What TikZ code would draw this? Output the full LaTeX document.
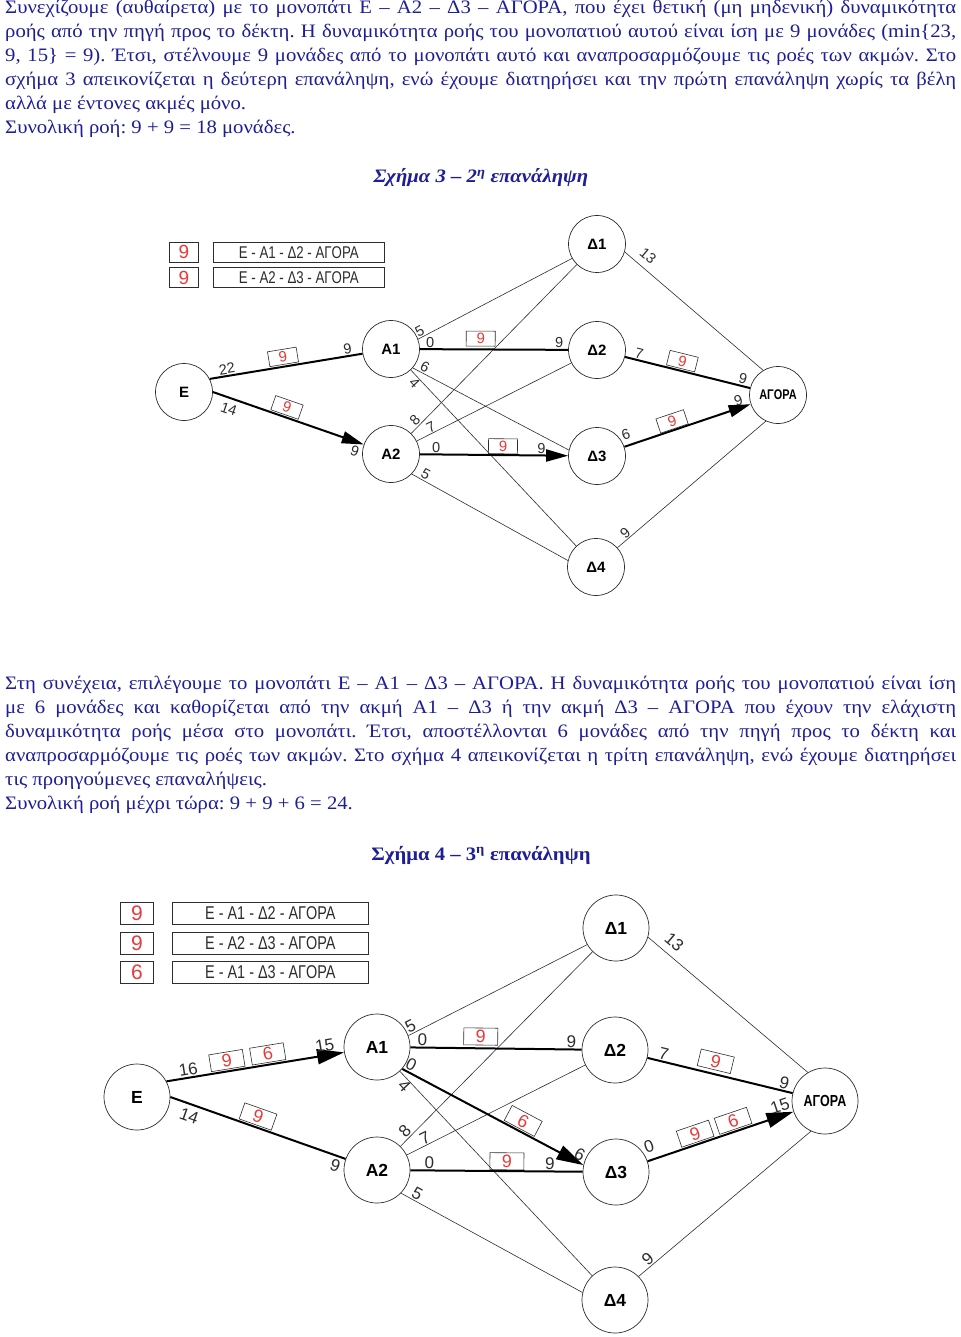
\documentclass[tikz,border=0pt]{standalone}
\usepackage{fontspec}
\setmainfont{Liberation Serif}[FakeStretch=1.09]
\newfontfamily\graphfont{Liberation Sans}
\newfontfamily\narrowfont[FakeStretch=0.78]{Liberation Sans}
\usetikzlibrary{arrows.meta}
\definecolor{textblue}{RGB}{30,30,150}
\definecolor{flowred}{RGB}{232,58,58}
\definecolor{edgegray}{RGB}{45,45,45}
\frenchspacing
\tikzset{
    page/.style      = {x=1pt, y=-1pt},
    bodytext/.style  = {anchor=north west, inner sep=0pt, text width=951pt,
                        align=justify, text=textblue,
                        font=\fontsize{19}{24}\selectfont},
    caption/.style   = {inner sep=0pt, text=textblue},
    vertex/.style    = {draw=edgegray, line width=0.7pt, circle, fill=white,
                        inner sep=0pt},
    market/.style    = {vertex},
    link/.style      = {draw=edgegray, line width=0.6pt},
    flow/.style      = {draw=black, line width=2pt},
    res/.style       = {sloped, inner sep=1pt, text=edgegray},
    flowbox/.style   = {draw=edgegray, line width=0.6pt, sloped, inner sep=0pt,
                        text=flowred},
    countbox/.style  = {draw=edgegray, line width=0.7pt, inner sep=0pt,
                        anchor=north west, text=flowred},
    pathbox/.style   = {countbox, text=edgegray},
    fig three/.style = {
        vertex/.append style   = {minimum size=57pt,
                                  font=\graphfont\bfseries\fontsize{15}{15}\selectfont},
        market/.append style   = {font=\narrowfont\bfseries\fontsize{14}{14}\selectfont},
        res/.append style      = {font=\graphfont\fontsize{14.5}{14.5}\selectfont},
        flowbox/.append style  = {minimum width=29pt, minimum height=15pt,
                                  font=\graphfont\fontsize{15}{15}\selectfont},
        countbox/.append style = {minimum width=29pt, minimum height=20pt,
                                  font=\graphfont\fontsize{19}{19}\selectfont},
        pathbox/.append style  = {minimum width=171pt,
                                  font=\narrowfont\fontsize{17}{17}\selectfont},
        >={Triangle[length=22pt, width=12pt]}},
    fig four/.style  = {
        vertex/.append style   = {minimum size=66pt,
                                  font=\graphfont\bfseries\fontsize{17.5}{17.5}\selectfont},
        market/.append style   = {font=\narrowfont\bfseries\fontsize{16}{16}\selectfont},
        res/.append style      = {font=\graphfont\fontsize{17}{17}\selectfont},
        flowbox/.append style  = {minimum width=34pt, minimum height=17pt,
                                  font=\graphfont\fontsize{18}{18}\selectfont},
        countbox/.append style = {minimum width=33pt, minimum height=22pt,
                                  font=\graphfont\fontsize{21}{21}\selectfont},
        pathbox/.append style  = {minimum width=196pt,
                                  font=\narrowfont\fontsize{18.5}{18.5}\selectfont},
        >={Triangle[length=27pt, width=15pt]}}
}

\begin{document}
\begin{tikzpicture}[page]
\useasboundingbox (0,0) rectangle (960,1337);
\fill[white] (0,0) rectangle (960,1337);

% Κείμενο πριν από το σχήμα 3
\node[bodytext] (intro) at (5,0) {Συνεχίζουμε (αυθαίρετα) με το μονοπάτι Ε – Α2 – Δ3 – ΑΓΟΡΑ, που έχει θετική (μη μηδενική) δυναμικότητα\linebreak
ροής από την πηγή προς το δέκτη. Η δυναμικότητα ροής του μονοπατιού αυτού είναι ίση με 9 μονάδες (min\{23,\linebreak
9, 15\} = 9). Έτσι, στέλνουμε 9 μονάδες από το μονοπάτι αυτό και αναπροσαρμόζουμε τις ροές των ακμών. Στο\linebreak
σχήμα 3 απεικονίζεται η δεύτερη επανάληψη, ενώ έχουμε διατηρήσει και την πρώτη επανάληψη χωρίς τα βέλη\linebreak
αλλά με έντονες ακμές μόνο.\\
Συνολική ροή: 9 + 9 = 18 μονάδες.};
\node[caption, font=\fontsize{19}{24}\selectfont\bfseries\itshape] (title-a) at (481,178) {Σχήμα 3 – 2\textsuperscript{η} επανάληψη};

% Σχήμα 3
\begin{scope}[fig three]
    \foreach \n/\count/\route in {0/9/Ε - Α1 - Δ2 - ΑΓΟΡΑ, 1/9/Ε - Α2 - Δ3 - ΑΓΟΡΑ} {
        \node[countbox] (count-a\n) at (169,{242+25.5*\n}) {\count};
        \node[pathbox] (route-a\n) at (213,{242+25.5*\n}) {\route};
    }

    \foreach \name/\x/\y/\txt in {E/184/392/Ε, A1/391/349/Α1, A2/391/454/Α2,
        D1/597/244/Δ1, D2/597/350/Δ2, D3/597/456/Δ3, D4/596/567/Δ4}
        \node[vertex] (\name-a) at (\x,\y) {\txt};
    \node[market] (M-a) at (778,395) {ΑΓΟΡΑ};

    \draw[link] (A1-a.20) -- node[res, pos=0.03, above] {5} (D1-a.210);
    \draw[link] (A1-a.-41) -- node[res, pos=0.06, above] {6} (D3-a.168);
    \draw[link] (A1-a) -- node[res, pos=0.05, below] {4} (D4-a);
    \draw[link] (A2-a) -- node[res, pos=0.05, above] {8} (D1-a);
    \draw[link] (A2-a) -- node[res, pos=0.11, above] {7} (D2-a);
    \draw[link] (A2-a.-44) -- node[res, pos=0.07, above] {5} (D4-a.167);
    \draw[link] (D1-a.-16) -- node[res, pos=0.11, above=6pt] {13} (M-a.121);
    \draw[link] (D4-a.42) -- node[res, pos=0.08, above] {9} (M-a.-115);

    \draw[flow] (E-a.27) -- node[res, pos=0.12, above] {22}
        node[flowbox, pos=0.49, above=2pt] {9} node[res, pos=0.91, above] {9} (A1-a);
    \draw[flow, ->] (E-a.east) -- node[res, pos=0.13, below=4pt] {14}
        node[flowbox, pos=0.47, above=2pt] {9} node[res, pos=0.96, below=2pt] {9} (A2-a);
    \draw[flow] (A1-a) -- node[res, pos=0.07, above] {0}
        node[flowbox, pos=0.41, above=3pt] {9} node[res, pos=0.94, above] {9} (D2-a);
    \draw[flow, ->] (A2-a) -- node[res, pos=0.11, above] {0}
        node[flowbox, pos=0.56, above=1pt] {9} node[res, pos=0.82, above] {9} (D3-a);
    \draw[flow] (D2-a) -- node[res, pos=0.1, above] {7}
        node[flowbox, pos=0.44, above=2pt] {9} node[res, pos=0.93, above] {9} (M-a);
    \draw[flow, ->] (D3-a) -- node[res, pos=0.04, above=4pt] {6}
        node[flowbox, pos=0.40, above=1pt] {9} node[res, pos=0.92, above] {9} (M-a);
\end{scope}

% Κείμενο πριν από το σχήμα 4
\node[bodytext] (next) at (5,676) {Στη συνέχεια, επιλέγουμε το μονοπάτι Ε – Α1 – Δ3 – ΑΓΟΡΑ. Η δυναμικότητα ροής του μονοπατιού είναι ίση\linebreak
με 6 μονάδες και καθορίζεται από την ακμή Α1 – Δ3 ή την ακμή Δ3 – ΑΓΟΡΑ που έχουν την ελάχιστη\linebreak
δυναμικότητα ροής μέσα στο μονοπάτι. Έτσι, αποστέλλονται 6 μονάδες από την πηγή προς το δέκτη και\linebreak
αναπροσαρμόζουμε τις ροές των ακμών. Στο σχήμα 4 απεικονίζεται η τρίτη επανάληψη, ενώ έχουμε διατηρήσει\linebreak
τις προηγούμενες επαναλήψεις.\\
Συνολική ροή μέχρι τώρα: 9 + 9 + 6 = 24.};
\node[caption, font=\fontsize{19}{24}\selectfont\bfseries] (title-b) at (481,855) {Σχήμα 4 – 3\textsuperscript{η} επανάληψη};

% Σχήμα 4
\begin{scope}[fig four]
    \foreach \n/\count/\route in {0/9/Ε - Α1 - Δ2 - ΑΓΟΡΑ, 1/9/Ε - Α2 - Δ3 - ΑΓΟΡΑ,
        2/6/Ε - Α1 - Δ3 - ΑΓΟΡΑ} {
        \node[countbox] (count-b\n) at (120,{902+29.5*\n}) {\count};
        \node[pathbox] (route-b\n) at (172,{902+29.5*\n}) {\route};
    }

    \foreach \name/\x/\y/\txt in {E/137/1097/Ε, A1/377/1047/Α1, A2/377/1170/Α2,
        D1/616/928/Δ1, D2/615/1050/Δ2, D3/616/1172/Δ3, D4/615/1300/Δ4}
        \node[vertex] (\name-b) at (\x,\y) {\txt};
    \node[market] (M-b) at (825,1101) {ΑΓΟΡΑ};

    \draw[link] (A1-b.20) -- node[res, pos=0.03, above] {5} (D1-b.210);
    \draw[link] (A1-b) -- node[res, pos=0.05, below] {4} (D4-b);
    \draw[link] (A2-b) -- node[res, pos=0.05, above] {8} (D1-b);
    \draw[link] (A2-b) -- node[res, pos=0.12, above] {7} (D2-b);
    \draw[link] (A2-b.-44) -- node[res, pos=0.07, above] {5} (D4-b.167);
    \draw[link] (D1-b.-16) -- node[res, pos=0.11, above=6pt] {13} (M-b.121);
    \draw[link] (D4-b.45) -- node[res, pos=0.08, above] {9} (M-b.-115);

    \draw[flow, ->] (E-b.28) -- node[res, pos=0.13, above] {16}
        node[flowbox, pos=0.35, above=2pt] {9} node[flowbox, pos=0.58, above=2pt] {6}
        node[res, pos=0.9, above=2pt] {15} (A1-b);
    \draw[flow] (E-b.east) -- node[res, pos=0.13, below=4pt] {14}
        node[flowbox, pos=0.48, above=2pt] {9} node[res, pos=0.96, below=2pt] {9} (A2-b);
    \draw[flow] (A1-b) -- node[res, pos=0.07, above] {0}
        node[flowbox, pos=0.41, above=3pt] {9} node[res, pos=0.94, above] {9} (D2-b);
    \draw[flow, ->] (A1-b.-41) -- node[res, pos=0.03, above] {0}
        node[flowbox, pos=0.64, above=2pt] {6} node[res, pos=0.96, above] {6} (D3-b.168);
    \draw[flow] (A2-b) -- node[res, pos=0.11, above] {0}
        node[flowbox, pos=0.56, above=1pt] {9} node[res, pos=0.81, above] {9} (D3-b);
    \draw[flow] (D2-b) -- node[res, pos=0.1, above] {7}
        node[flowbox, pos=0.45, above=4pt] {9} node[res, pos=0.93, above] {9} (M-b);
    \draw[flow, ->] (D3-b) -- node[res, pos=0.04, above=6pt] {0}
        node[flowbox, pos=0.35, above=2pt] {9} node[flowbox, pos=0.61, above=2pt] {6}
        node[res, pos=0.93, above=2pt] {15} (M-b);
\end{scope}
\end{tikzpicture}
\end{document}
